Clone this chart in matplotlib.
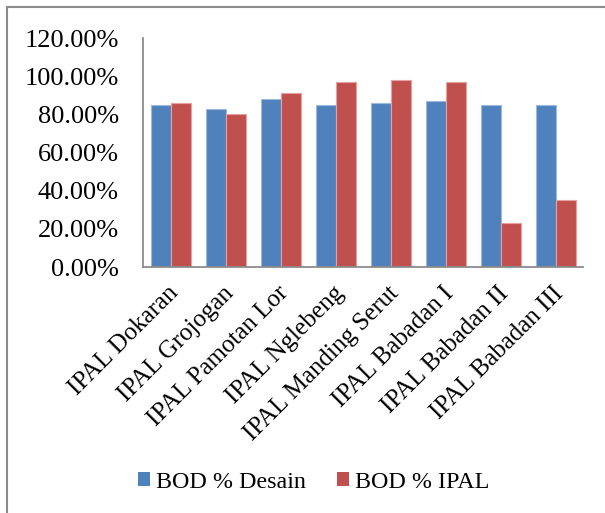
import matplotlib
matplotlib.use("Agg")
import matplotlib.pyplot as plt
import numpy as np
from matplotlib.patches import Patch
from matplotlib.lines import Line2D
import matplotlib.transforms as mtransforms

categories = ["IPAL Dokaran", "IPAL Grojogan", "IPAL Pamotan Lor", "IPAL Nglebeng",
              "IPAL Manding Serut", "IPAL Babadan I", "IPAL Babadan II", "IPAL Babadan III"]
bod_desain = [85, 83, 88, 85, 86, 87, 85, 85]
bod_ipal = [86, 80, 91, 97, 98, 97, 23, 35]
series_names = ["BOD % Desain", "BOD % IPAL"]
yticks = [0, 20, 40, 60, 80, 100, 120]

plt.rcParams['font.family'] = ['Liberation Serif', 'DejaVu Serif']
fs = 17.3

fig = plt.figure(figsize=(6.05, 5.13), dpi=100)
ax = fig.add_axes([143/605, 1-267/513, (583-143)/605, (267-38)/513])

x = np.arange(len(categories))
w = 20/55
blue = "#4F81BD"
red = "#C0504D"
ax.bar(x - w/2, bod_desain, width=w, color=blue, edgecolor="#9DB9DE", linewidth=0.8)
ax.bar(x + w/2, bod_ipal, width=w, color=red, edgecolor="#E8A09E", linewidth=0.8)

ax.set_xlim(-0.5, len(categories) - 0.5)
ax.set_ylim(0, 120)
ax.set_yticks(yticks)
ax.set_yticklabels([f"{v:.2f}%" for v in yticks], fontsize=19)
ax.tick_params(axis='y', length=0, pad=17.5)
ax.set_xticks(x)
ax.set_xticklabels(categories, fontsize=18, rotation=45, ha='right', va='top',
                   rotation_mode='anchor')
ax.tick_params(axis='x', length=0, pad=11)
offset = mtransforms.ScaledTranslation(-3/100, 0, fig.dpi_scale_trans)
for lab in ax.get_xticklabels():
    lab.set_transform(lab.get_transform() + offset)

for s in ['top', 'right']:
    ax.spines[s].set_visible(False)
for s in ['left', 'bottom']:
    ax.spines[s].set_color("#8C8C8C")
    ax.spines[s].set_linewidth(1.3)

handles = [Patch(facecolor=blue, edgecolor='none'), Patch(facecolor=red, edgecolor='none')]
fig.legend(handles, series_names, loc='center', bbox_to_anchor=(314/605, 1-482/513),
           ncol=2, frameon=False, fontsize=fs, handlelength=0.5, handleheight=0.5,
           handletextpad=0.25, columnspacing=1.3)

# outer frame (top and left visible)
fig.add_artist(Line2D([7/605, 1], [1-7/513, 1-7/513], color="#8C8C8C", linewidth=1.5,
                      transform=fig.transFigure))
fig.add_artist(Line2D([7/605, 7/605], [0, 1-7/513], color="#8C8C8C", linewidth=1.5,
                      transform=fig.transFigure))

fig.savefig("out.png", dpi=100)
